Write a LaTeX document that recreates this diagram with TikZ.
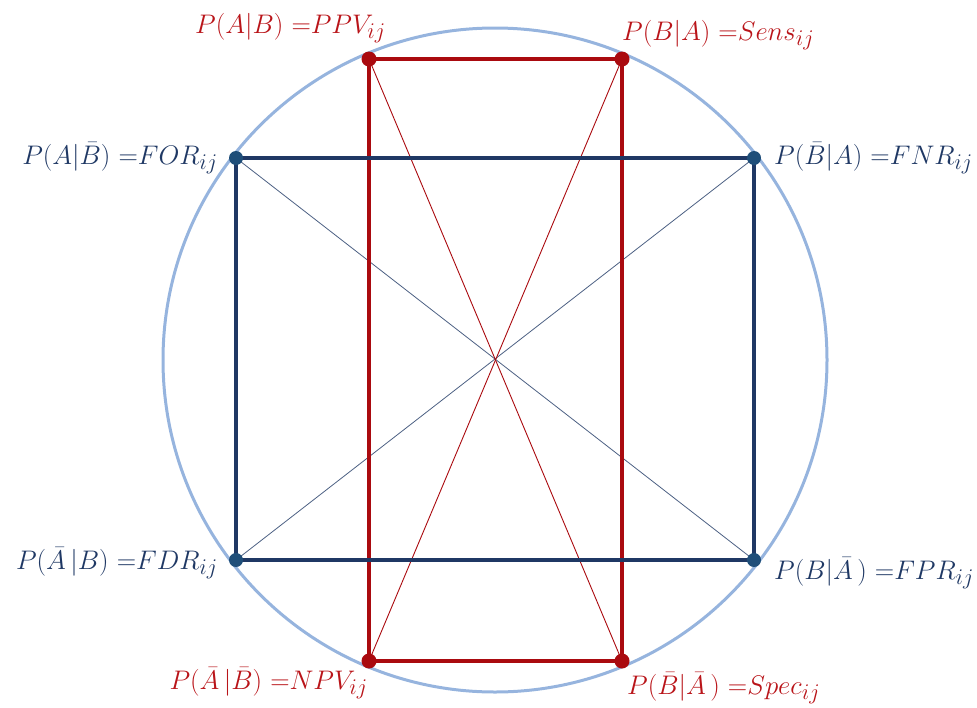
\documentclass[tikz,border=0pt]{standalone}
\usepackage{graphicx}
\usepackage{xcolor}
\definecolor{rd}{RGB}{170,10,15}
\definecolor{rdtext}{RGB}{185,20,25}
\definecolor{bl}{RGB}{31,56,100}
\definecolor{bldot}{RGB}{31,78,121}
\definecolor{circ}{RGB}{150,180,222}
\newcommand{\lbl}[1]{\scalebox{1.08}{$#1$}}
\begin{document}
\begin{tikzpicture}[x=1pt,y=-1pt,
  dotr/.style={circle,fill=rd,inner sep=0pt,minimum size=15pt},
  dotb/.style={circle,fill=bldot,inner sep=0pt,minimum size=14pt},
  thickr/.style={rd,line width=3.5pt},
  thickb/.style={bl,line width=3.2pt},
  thinr/.style={rd,line width=0.9pt},
  thinb/.style={bl!80,line width=0.8pt},
  lab/.style={inner sep=0pt,font=\fontsize{24.88}{30}\selectfont}]
\useasboundingbox (0,0) rectangle (977,707);
\draw[circ,line width=3pt] (495,360) circle[radius=332];
% red nodes
\coordinate (ppv) at (369,59);
\coordinate (sens) at (622,59);
\coordinate (npv) at (369,661);
\coordinate (spec) at (622,661);
% blue nodes
\coordinate (for) at (236,158);
\coordinate (fnr) at (754,158);
\coordinate (fdr) at (236,560);
\coordinate (fpr) at (754,560);
% thin diagonals
\draw[thinb] (for) -- (fpr);
\draw[thinb] (fnr) -- (fdr);
\draw[thinr] (ppv) -- (spec);
\draw[thinr] (sens) -- (npv);
% rectangles
\draw[thickr] (ppv) -- (sens) -- (spec) -- (npv) -- cycle;
\draw[thickb] (for) -- (fnr) -- (fpr) -- (fdr) -- cycle;
\node[dotr] at (ppv) {};
\node[dotr] at (sens) {};
\node[dotr] at (npv) {};
\node[dotr] at (spec) {};
\node[dotb] at (for) {};
\node[dotb] at (fnr) {};
\node[dotb] at (fdr) {};
\node[dotb] at (fpr) {};
% labels
\node[lab,text=rdtext,anchor=base east] (lppv) at (386,33) {\lbl{P(A|B)\ {=}PPV_{ij}}};
\node[lab,text=rdtext,anchor=base west] (lsens) at (622,40) {\lbl{P(B|A)\ {=}Sens_{ij}}};
\node[lab,text=bl,anchor=base east] (lfor) at (218,164) {\lbl{P(A|\bar B)\ {=}FOR_{ij}}};
\node[lab,text=bl,anchor=base west] (lfnr) at (774,164) {\lbl{P(\bar B|A)\ {=}FNR_{ij}}};
\node[lab,text=bl,anchor=base east] (lfdr) at (218,569) {\lbl{P(\bar A\,|B)\ {=}FDR_{ij}}};
\node[lab,text=bl,anchor=base west] (lfpr) at (774,579) {\lbl{P(B|\bar A\,)\ {=}FPR_{ij}}};
\node[lab,text=rdtext,anchor=base east] (lnpv) at (368,689) {\lbl{P(\bar A\,|\bar B)\ {=}NPV_{ij}}};
\node[lab,text=rdtext,anchor=base west] (lspec) at (627,694) {\lbl{P(\bar B|\bar A\,)\ {=}Spec_{ij}}};
\end{tikzpicture}
\end{document}
